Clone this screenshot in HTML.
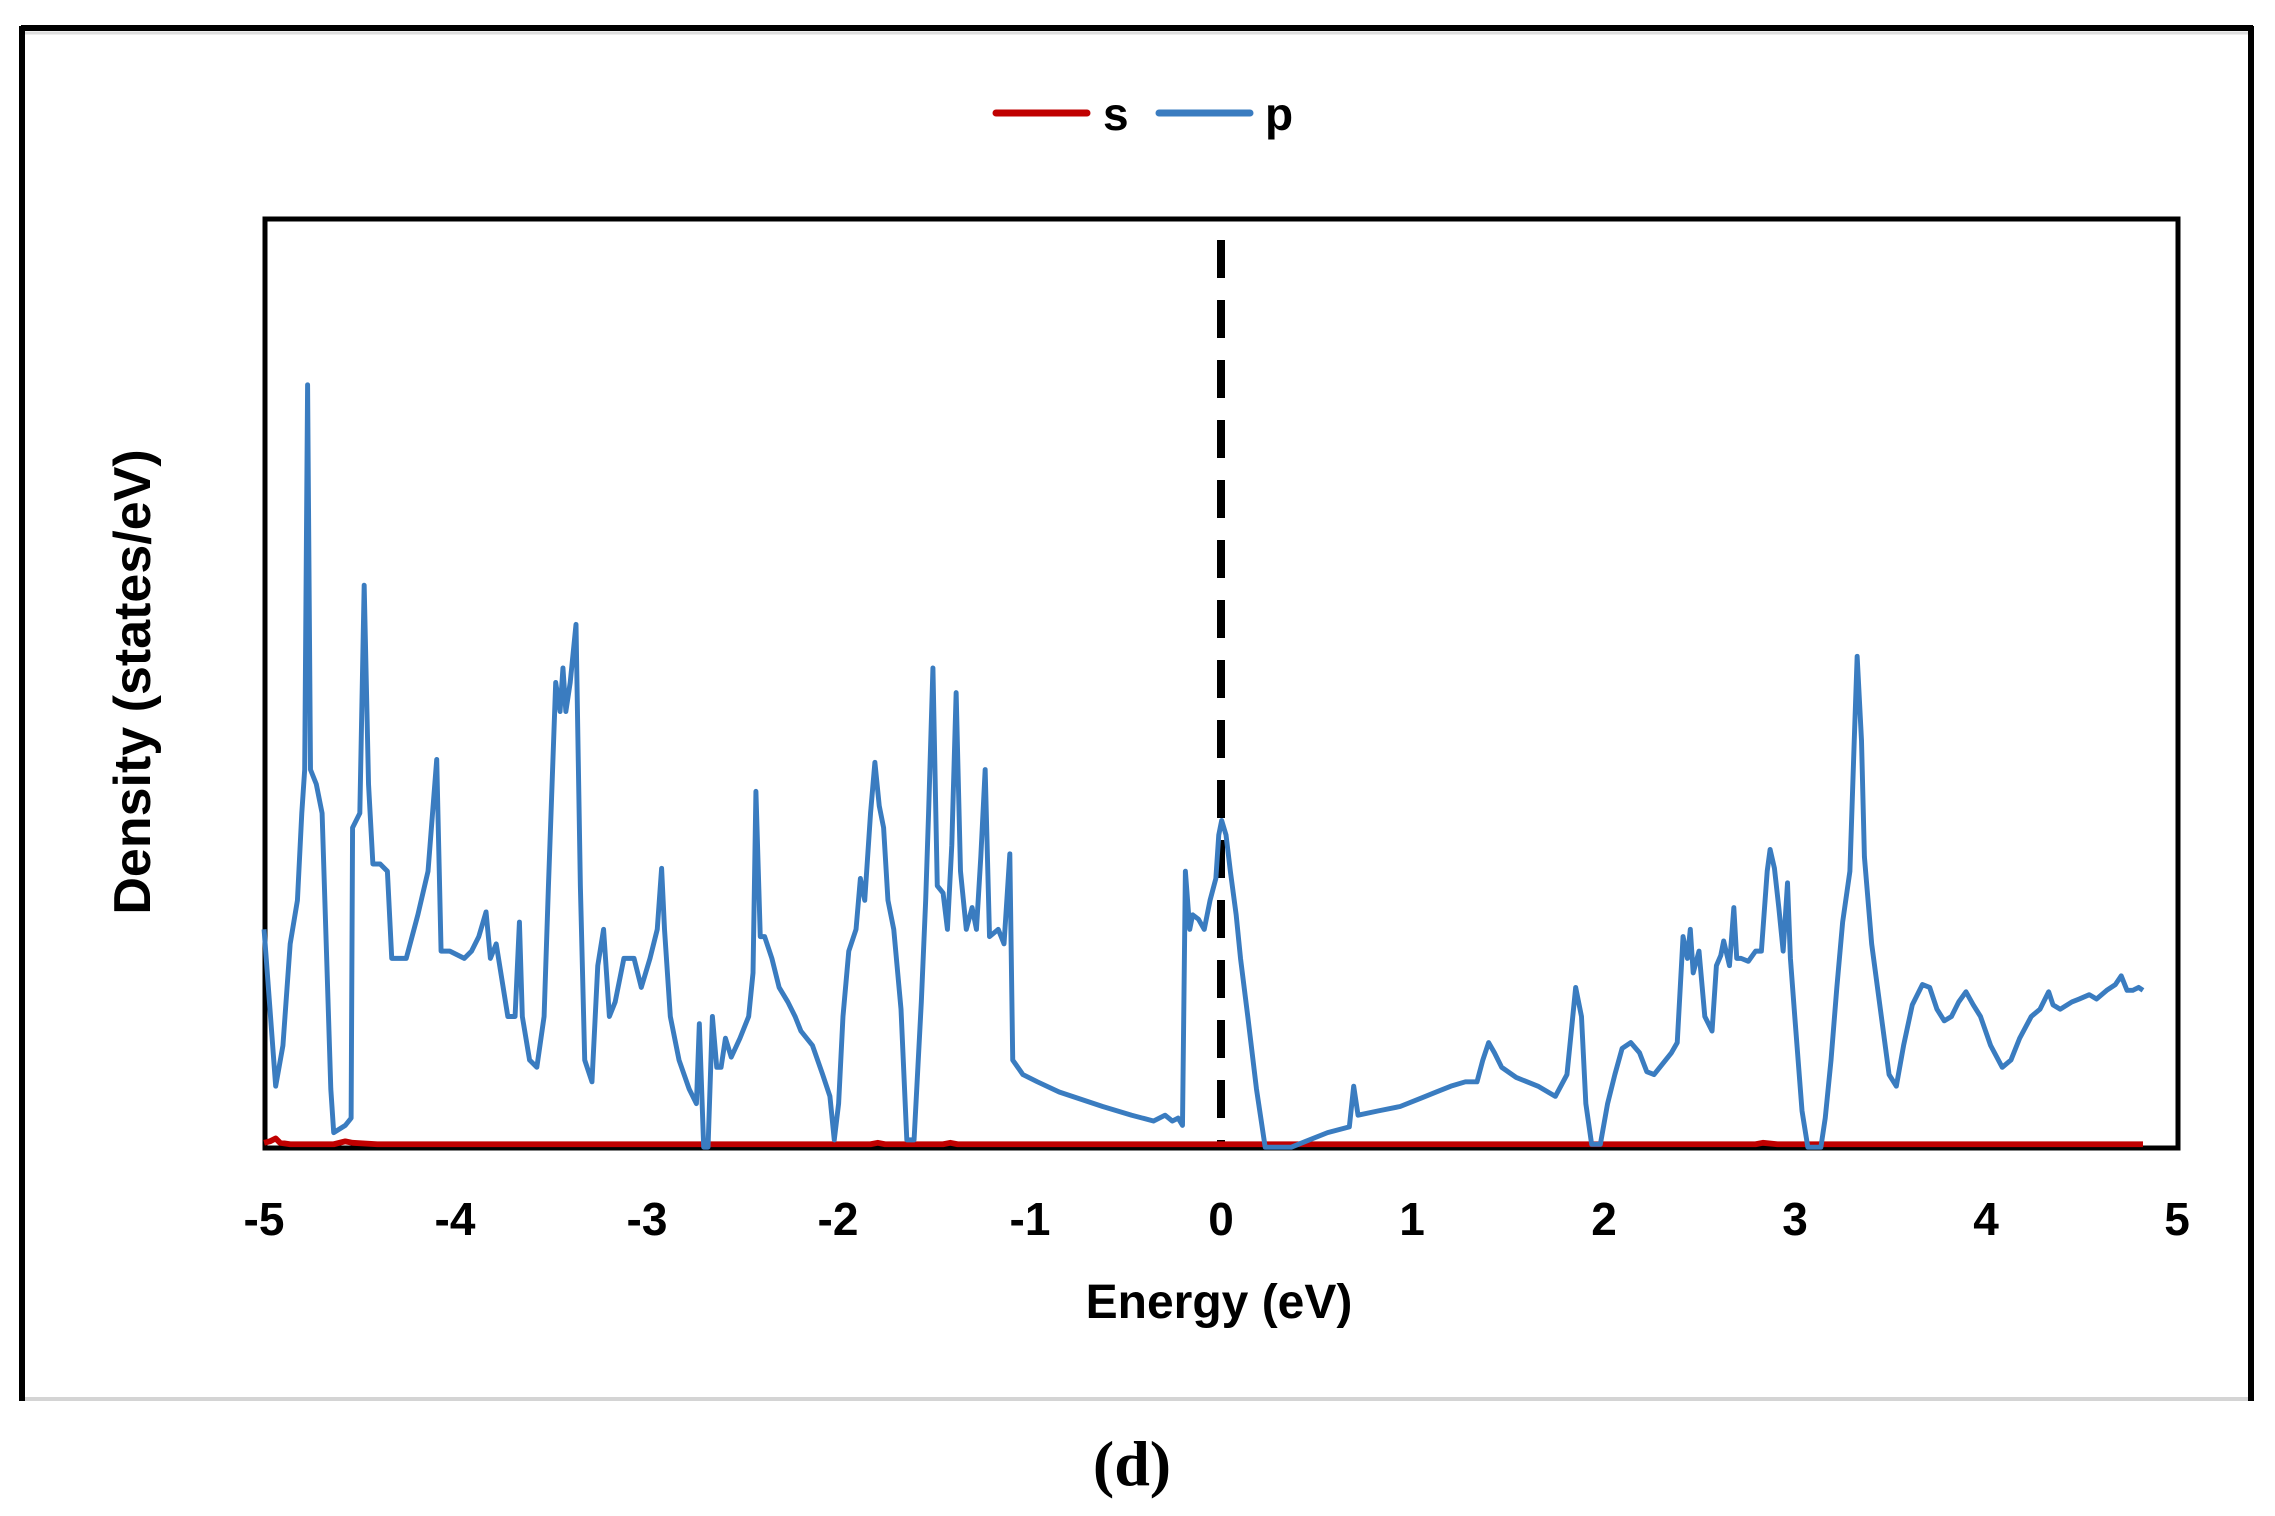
<!DOCTYPE html>
<html><head><meta charset="utf-8"><style>
html,body{margin:0;padding:0;background:#fff;}
svg{display:block;}
</style></head><body>
<svg width="2275" height="1516" viewBox="0 0 2275 1516" xmlns="http://www.w3.org/2000/svg">
<rect width="2275" height="1516" fill="#fff"/>
<line x1="21" y1="28" x2="2253" y2="28" stroke="#000" stroke-width="6"/>
<line x1="24" y1="33" x2="2250" y2="33" stroke="#ddd" stroke-width="3"/>
<line x1="22" y1="26" x2="22" y2="1401" stroke="#000" stroke-width="6"/>
<line x1="2251" y1="26" x2="2251" y2="1401" stroke="#000" stroke-width="6"/>
<line x1="25" y1="1399" x2="2248" y2="1399" stroke="#d4d4d4" stroke-width="4"/>
<line x1="996" y1="113" x2="1087" y2="113" stroke="#c00000" stroke-width="7" stroke-linecap="round"/>
<text x="1103" y="130" font-family="Liberation Sans, sans-serif" font-weight="bold" font-size="46">s</text>
<line x1="1159" y1="113" x2="1250" y2="113" stroke="#3a7cc0" stroke-width="7" stroke-linecap="round"/>
<text x="1265" y="130" font-family="Liberation Sans, sans-serif" font-weight="bold" font-size="46">p</text>
<rect x="265" y="219" width="1913" height="929" fill="none" stroke="#000" stroke-width="5"/>
<line x1="1221" y1="240" x2="1221" y2="1146" stroke="#000" stroke-width="8" stroke-dasharray="38,22"/>
<g transform="scale(1.4509,1.4521)" fill="none" stroke-linejoin="round">
<polyline stroke="#c00000" stroke-width="4" points="182,787 186,786 190,784 193,787 200,788 230,788 238,786 243,787 260,788 600,788 605,787 610,788 650,788 655,787 660,788 1210,788 1215,787 1225,788 1477,788"/>
<polyline stroke="#3a7cc0" stroke-width="3.4" points="182,640 190,748 195,720 200,650 205,620 208,560 210,530 212,265 214,530 218,540 222,560 228,750 230,780 238,775 242,770 243,570 248,560 251,403 254,540 257,595 262,595 267,600 270,660 280,660 288,630 295,600 301,523 304,655 310,655 320,660 325,655 330,645 335,628 338,660 342,650 350,700 355,700 358,635 360,700 365,730 370,735 375,700 378,610 383,470 386,490 388,460 390,490 393,470 397,430 400,610 403,730 408,745 412,665 416,640 420,700 424,690 430,660 437,660 442,680 448,660 453,640 456,598 458,640 462,700 468,730 475,750 480,760 482,705 485,790 488,790 491,700 494,735 497,735 500,715 504,728 510,715 516,700 519,670 521,545 524,645 527,645 532,660 537,680 543,690 548,700 552,710 560,720 567,740 572,755 575,785 578,760 581,700 585,655 590,640 593,605 596,620 600,560 603,525 606,555 609,570 612,620 616,640 621,695 625,785 630,785 635,690 638,620 640,560 643,460 646,610 650,615 653,640 656,582 659,477 662,600 666,640 670,625 673,640 676,590 679,530 682,645 688,640 692,650 696,588 698,730 705,740 715,745 730,752 745,757 760,762 780,768 795,772 803,768 808,772 812,770 815,775 817,600 820,640 822,630 826,633 830,640 834,620 838,605 840,575 842,565 845,575 848,600 852,630 855,660 860,700 866,750 872,790 890,790 900,786 915,780 930,776 933,748 936,768 950,765 965,762 980,756 990,752 1000,748 1010,745 1018,745 1022,730 1026,718 1030,725 1035,735 1045,742 1060,748 1072,755 1080,740 1086,680 1090,700 1093,760 1097,788 1103,788 1108,760 1113,740 1118,722 1124,718 1130,725 1135,738 1140,740 1148,730 1152,725 1156,718 1160,645 1163,660 1165,640 1167,670 1171,655 1175,700 1180,710 1183,665 1186,658 1188,648 1192,665 1195,625 1197,660 1200,660 1205,662 1210,655 1214,655 1218,600 1220,585 1223,598 1226,625 1229,655 1232,608 1234,660 1237,700 1242,765 1246,790 1255,790 1258,770 1262,730 1266,680 1270,635 1275,600 1278,510 1280,452 1283,510 1285,590 1290,650 1296,695 1302,740 1307,748 1312,720 1318,692 1325,678 1330,680 1335,695 1340,703 1345,700 1350,690 1355,683 1360,692 1365,700 1372,720 1380,735 1386,730 1392,715 1400,700 1406,695 1412,683 1415,692 1420,695 1428,690 1433,688 1440,685 1445,688 1452,682 1458,678 1462,672 1466,682 1470,682 1474,680 1477,682"/>
</g>
<g font-family="Liberation Sans, sans-serif" font-weight="bold" font-size="46" text-anchor="middle" fill="#000">
<text x="264" y="1235">-5</text>
<text x="455" y="1235">-4</text>
<text x="647" y="1235">-3</text>
<text x="838" y="1235">-2</text>
<text x="1030" y="1235">-1</text>
<text x="1221" y="1235">0</text>
<text x="1412" y="1235">1</text>
<text x="1604" y="1235">2</text>
<text x="1795" y="1235">3</text>
<text x="1986" y="1235">4</text>
<text x="2177" y="1235">5</text>
</g>
<text x="1219" y="1318" font-family="Liberation Sans, sans-serif" font-weight="bold" font-size="48" text-anchor="middle">Energy (eV)</text>
<text transform="translate(150,682) rotate(-90)" font-family="Liberation Sans, sans-serif" font-weight="bold" font-size="52" text-anchor="middle">Density (states/eV)</text>
<text x="1132" y="1485" font-family="Liberation Serif, serif" font-weight="bold" font-size="64" text-anchor="middle">(d)</text>
</svg>
</body></html>
